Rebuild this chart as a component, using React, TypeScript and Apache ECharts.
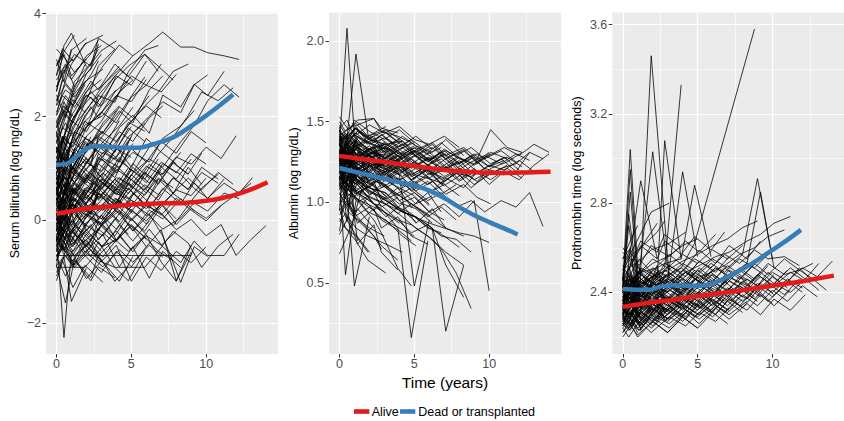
import React, { useEffect, useRef } from "react";
import * as echarts from "echarts";

// Visit schedules (years since baseline)
const VISITS_A = [0, 0.5, 1, 2, 3, 4, 5, 6, 7, 8, 9, 10, 11, 12, 13, 14];
const VISITS_B = [0, 0.4, 1.1, 1.9, 3.1, 4.2, 5.1, 6.2, 7.1, 8.3, 9.2, 10.1, 11.2, 12.2, 13.1, 14.1];
const VISITS_C = [0, 0.6, 1.2, 2.3, 2.8, 3.9, 4.8, 5.9, 6.8, 7.8, 8.8, 9.7, 10.8, 11.8, 12.7, 13.6];

const X_TICKS = [0, 5, 10];
const BILI_Y_TICKS = [-2, 0, 2, 4];
const ALB_Y_TICKS = [0.5, 1.0, 1.5, 2.0];
const PRO_Y_TICKS = [2.4, 2.8, 3.2, 3.6];

// Individual trajectories: schedule key, then one value per visit ("-" = no visit)
const BILI_SUBJECTS = [
  "A -0.69 -0.69 -0.69 -0.69 -0.69 -0.69 -0.69 -0.69 -0.69 -0.69 -0.69",
  "B -0.92 -0.92 -0.92 -0.92 -0.51 -0.36",
  "C 0.22 0.51 0.36 0.92 1.15 1.48 1.83 2.21 2.47 2.88 3.02",
  "A 1.52 2.03 2.38 2.91 3.28 3.47",
  "B 2.81 3.32 3.08 3.41 3.58",
  "C 3.31 3.12 2.86 3.22 3.49",
  "A 2.49 3.38 3.62 2.97",
  "B 0.02 -0.21 0.13 -0.08 0.22 -0.03 0.31 0.09 -0.18 0.04 0.33 0.17 0.52 0.41",
  "C -0.41 -0.63 -0.29 -0.52 -0.18 -0.44 -0.07 -0.33 -0.61 -0.22 -0.45 -0.92 -0.51 -0.28",
  "A 0.31 0.44 0.18 0.63 0.49 0.82 0.68 1.04 0.87 1.22 1.08 1.41 1.19 1.63",
  "B 1.21 1.53 1.29 1.84 2.02 2.48 2.71",
  "C 0.82 1.03 0.71 1.24 1.52 1.93 2.31 2.77",
  "A -1.18 -0.72 -1.58 -0.93",
  "A -0.32 -2.28 -0.61 -1.14 -0.79",
  "C -0.88 -1.61 -0.77 -1.12 -0.68 -1.19 -0.91",
  "A 1.03 1.62 2.19 2.83 3.21",
  "B 0.61 1.28 1.92 2.43 2.98 3.39 3.18",
  "C 1.79 2.14 2.68 3.04 3.31",
  "A 2.04 2.61 3.02 3.44",
  "B 2.23 2.72 2.48 3.01",
  "C 1.38 1.12 1.71 2.02 2.41 2.28 2.87 3.29 3.38",
  "A -0.19 0.03 -0.28 0.12 -0.07 0.21 0.38 0.08 0.29 0.58 0.47 0.81",
  "B 0.41 0.19 0.62 0.31 0.73 0.52 0.91 1.18 1.02 1.51 1.83 2.31 2.62 2.38",
  "C 0.11 0.29 0.02 0.43 0.18 0.61 0.33 0.88 1.27 1.61 2.02 2.48 2.31 2.56",
  "A -0.52 -0.31 -0.63 -0.38 -0.81 -0.49 -1.19 -0.72 -0.98 -0.61 -0.83 -0.52",
  "B -0.11 -0.42 -0.19 -0.63 -0.28 -0.91 -0.52 -1.13 -0.61 -0.92",
  "C 0.61 0.83 0.49 0.91 0.72 1.08 0.82 0.58 0.93 0.51 0.29 0.62 0.88",
  "A 0.91 1.22 0.98 1.43 1.71 1.52 1.92 2.21 1.98",
  "B 1.62 1.91 2.33 2.08 2.61 2.92 2.71",
  "C 2.58 2.93 3.21 2.98 3.52 3.31",
  "A 3.02 3.21 2.79 3.12",
  "B 0.28 0.11 0.52 0.83 1.19 1.02 1.48",
  "C -0.31 -0.09 -0.42 0.03 -0.21 0.32 0.08 0.51",
  "A 0.01 0.22 -0.11 0.29 0.02 0.41 0.18 -0.02 0.31 -0.09 0.22 0.03 0.28 0.49 0.71",
  "B -0.69 -0.48 -0.81 -0.39 -0.72 -0.31 -0.62 -0.18 -0.52 -0.83 -0.41 -0.69 -0.69 -0.28",
  "A 0.19 0.02 0.31 0.08 -0.11 0.18 -0.02 0.28 0.12 -0.19 0.01 -0.31 -0.09 -0.69 -0.38 -0.11",
  "B 1.09 1.31 0.98 1.52 1.21 1.79 2.03 1.68 2.42 2.19 2.63 2.41 2.88",
  "C 0.98 1.42 1.81 2.52 2.98 3.31",
  "A 2.31 2.82 3.31",
  "B 2.98 3.29",
  "C 2.71 3.02 2.58",
  "A 1.81 2.29 1.98",
  "B 1.29 1.82 2.41 2.68",
  "C 0.71 1.22 0.98 1.61",
  "A 0.48 0.91 1.52",
  "B -0.41 0.12 0.31",
  "C -1.02 -0.61 -0.88 -0.52",
  "A -0.79 -0.41 -0.72 -0.28 -0.61",
  "B -0.31 -0.62 -0.91 -0.48 -0.82 -1.19 -0.71",
  "C 0.02 -0.39 -0.18 -0.71 -0.42 -0.92 -1.18 -0.61",
  "A 0.41 0.02 0.31 -0.21 0.09 -0.39 -0.12 -0.52 -0.19 -1.18 -0.62",
  "B 0.12 -0.29 0.01 -0.41 -0.09 0.18 -0.22 0.11 -0.31 -1.21 -0.52 -0.71",
  "C 0.19 0.52 0.28 0.71 0.41 0.79 0.58 0.92 0.69 1.11 0.88",
  "A 0.72 0.49 0.91 1.18 0.82 1.41 1.02 1.58 1.31 1.09",
  "B 0.79 1.08 0.91 1.42 1.69 2.11 1.88 2.52 2.79",
  "C 1.31 1.68 2.02 2.38 2.19 2.71 2.98 3.21 2.88",
  "B 1.48 1.79 1.62 2.11 2.52 2.88 3.18 3.42 3.64 3.35 3.35 3.24 3.18 3.11",
  "C 2.02 2.41 2.18 2.69 2.52 3.02 2.78 3.21 2.98 2.71",
  "A 1.69 2.12 1.91 2.42 2.21 2.79 2.61 3.08",
  "B 0.88 0.61 1.02 0.79 1.31 1.12 1.68 2.01 2.29 2.08 2.62 2.81",
  "C -0.22 0.09 -0.12 0.31 0.01 0.42 0.19 0.61 0.38 0.82 0.59 1.02 0.79",
  "A -0.61 -0.38 -0.19 -0.52 -0.09 -0.41 0.02 -0.29 -0.82 -1.19 -0.49",
  "B 0.31 0.62 0.19 0.52 0.91",
  "C 0.88 0.62 1.09 0.81 1.28",
  "A 0.09 -0.22 0.21 -0.12",
  "B 1.91 1.48 2.21 2.62",
  "C 2.42 1.98 2.61 2.92 3.41",
  "A 3.11 2.68 3.29 3.52",
  "B -0.09 0.41 0.82 1.31 1.72",
  "C -0.49 -0.21 0.28 0.12 0.58 1.02",
  "A 0.62 0.31 0.79 0.51 1.02 1.38 1.81",
  "B 1.41 1.02 1.61 1.29 1.88 2.21",
  "C 0.42 0.09 0.51 0.22 0.61 0.28 0.72 0.41 0.19 0.52 0.81 0.58 0.92 0.69",
  "A -0.29 0.02 -0.21 0.11 -0.09 0.22 0.01 0.31 0.09 0.42 0.19 -0.02 0.28",
  "B 0.52 0.29 0.61 0.38 0.79 0.58 1.02 0.71 1.09 0.88 0.61 0.42 0.71 0.52 0.82",
  "C -0.88 -0.69 -0.92 -0.58 -0.79 -0.92 -0.92 -0.92 -0.61 -0.79",
  "A 0.02 0.51 1.09 1.62",
  "B 0.69 1.21 1.52 2.02 2.41",
  "C 1.11 1.62 1.29 1.98 2.31",
  "A 1.19 1.61 2.02",
  "B 2.49 2.91 3.12",
  "C 2.98 3.31 3.58",
  "A 2.79 3.21",
  "B -1.09 -0.79 -1.31 -0.88 -1.21",
  "C -0.71 -1.09 -0.79 -1.18 -0.91 -1.12",
  "A -0.19 -0.61 -0.31 -0.72 -1.02 -0.61 -0.91 -0.52",
  "B 0.19 0.01 0.41 0.21 0.52 0.31 0.62",
  "C 0.79 0.51 0.92 0.69 1.21 0.98 1.52",
  "A 0.98 1.31 1.09 1.62 1.91 2.38 2.79 2.61 3.02",
  "B -0.39 -0.18 -0.52 -0.09 -0.31 0.12 -0.21 0.19 0.02 0.41 0.18",
  "C 0.29 0.02 0.38 0.09 0.52 0.21 0.61 0.29 0.79 0.51 1.02 0.69",
  "A -0.21 1.02 0.41",
  "B 0.92 -0.31 0.58",
  "C -0.62 0.71 -0.12",
  "A 1.41 0.21 1.12",
  "B 0.31 1.62 0.88 1.29",
  "C 1.71 0.52 1.38",
  "A -0.91 0.29 -0.42 0.08",
  "B 0.61 -0.58 0.22",
  "A 0.52 0.81 0.63 1.12 0.94 1.38 1.21",
  "B -0.18 0.21 -0.05 0.44 0.18 0.69",
  "C 1.02 0.78 1.31 1.05 1.62 1.41 1.89 1.72",
  "A 0.33 -0.12 0.48 0.09 0.62 0.31 0.79 0.52 0.98",
  "B 0.71 0.98 1.28 1.09 1.51 1.82 2.18",
  "C -0.38 -0.02 -0.29 0.18 -0.11 0.29",
  "A 1.22 0.91 1.48 1.79 2.08 2.41 2.29 2.72",
  "B 0.08 0.39 0.21 0.58 0.41 0.82 0.61 1.08 0.88 1.31",
  "C 0.58 0.29 0.71 0.41 0.88 0.62 1.01 0.79 1.18",
  "A -0.42 -0.11 -0.48 -0.19 -0.52 -0.21 -0.58 -0.31 -0.49 -0.22",
  "B 1.78 2.09 1.88 2.38 2.61 2.98",
  "C 2.21 2.52 2.38 2.81 3.08",
  "A 0.88 1.19 1.52 1.31 1.79 2.12",
  "B 0.48 0.79 0.52 0.98 0.71 1.21 0.92 1.41",
  "C -0.11 0.21 0.42 0.19 0.51 0.31 0.69 0.48 0.81 0.62",
  "A 0.21 0.52 0.38 0.81 0.59 1.02",
  "B -0.58 -0.29 -0.61 -0.22 -0.52 -0.11 -0.41 -0.02",
  "C 1.51 1.88 1.62 2.19 1.98 2.48 2.71",
  "A 2.58 2.91 2.72 3.18 3.38",
  "B 1.02 0.72 1.31 1.58 1.39 1.92",
  "C 0.38 0.62 0.88 0.61 1.09 0.82 1.32",
  "A -0.08 0.29 0.11 0.49 0.22 0.61 0.38 0.22 0.51",
  "B 0.92 1.21 1.02 1.48 1.28 1.71 1.52 1.98 2.21",
  "C -0.69 -0.51 -0.69 -0.42 -0.69 -0.38 -0.61 -0.31",
  "A 1.62 1.31 1.92 1.71 2.22 2.52",
  "B 0.02 0.31 0.58 0.29 0.71 0.48 0.91",
  "C 0.71 0.98 0.79 1.21 1.42 1.18 1.61 1.88",
  "A -0.31 -0.58 -0.21 -0.49 -0.12 -0.41 -0.09 -0.38",
  "B 2.09 2.41 2.21 2.68 2.92",
  "C 0.12 0.41 0.22 0.61 0.38 0.79 0.51 0.92 0.72 1.11 0.89 1.29",
  "A 0.58 0.88 1.19 0.98 1.42 1.21 1.61",
  "B -0.22 0.09 -0.18 0.22 0.01 0.38 0.12",
  "C 1.19 0.92 1.38 1.12 1.58 1.31 1.78 1.52",
  "A 0.42 0.19 0.61 0.32 0.72 0.49 0.88 0.61 1.02 0.79 1.18",
  "B 1.31 1.62 1.41 1.91 1.68 2.19 1.98 2.41",
  "C -0.52 -0.21 -0.48 -0.09 -0.39 0.02 -0.28",
  "A 0.11 0.38 0.61 0.42 0.79 0.58 0.98 0.72 1.12 0.91 1.28 1.08",
  "B 0.59 0.31 0.72 0.48 0.91 0.62 1.09 0.81",
  "C 1.88 2.19 1.98 2.49 2.31 2.79",
  "A -0.09 -0.38 -0.02 -0.29 0.09 -0.18 0.21 -0.08 0.31 0.02",
  "B 0.38 0.69 0.49 0.88 0.62 1.02 1.31 1.12 1.58 1.82 2.12",
  "C 0.49 0.21 0.62 0.38 0.79 0.52 0.41 0.68 0.49 0.81 0.59 0.92 0.71",
  "A 1.31 1.59 1.42 1.81 2.09 1.88 2.38 2.61 2.48 2.82",
  "B -0.79 -0.52 -0.88 -0.61 -0.91 -0.58 -0.82 -0.49 -0.72",
  "C 0.31 0.01 0.42 0.12 0.51 0.21 0.62 0.31 0.71",
  "A 0.81 0.52 1.01 0.72 1.19 0.91 1.38 1.12 1.52 1.29 1.71 1.49",
  "B 0.21 -0.09 0.31 0.02 0.42 0.11 0.52 0.22 0.61 0.31 0.72 0.41 0.79",
  "C -0.19 -0.48 -0.12 -0.41 -0.02 -0.31 0.08 -0.22 0.18 -0.11 0.28",
  "A 1.92 2.21 2.02 2.49 2.72",
  "B 1.52 1.21 1.81 2.09",
  "C 0.92 1.28 1.09 1.52",
  "A 0.68 0.98 0.79 1.21",
  "B -0.02 0.42 0.19 0.62",
  "C 0.41 0.72 0.52 0.91",
  "A -0.48 -0.19 -0.52 -0.12",
  "B 0.82 0.49 1.02 0.71",
  "C 2.31 2.62 2.41",
  "A 1.12 1.41 1.21",
  "B 0.52 0.88 0.62",
  "C -0.29 0.08 -0.19",
  "A 0.28 -0.02 0.39",
  "B 1.68 1.39 1.91",
  "C 1.42 1.12 1.71 1.52",
  "A -0.71 -0.42 -0.81 -0.49 -0.78",
  "B 0.11 -0.21 0.22 -0.12 0.31 -0.04",
  "C 0.62 0.91 0.72 1.08 0.88 1.21 1.02",
  "A 0.38 0.69 0.49 0.82 0.61 0.98 0.78 1.12",
];

const ALB_SUBJECTS = [
  "A 1.30 1.35 1.27 1.33 1.24 1.31 1.21 1.28 1.19 1.26 1.17 1.23 1.20 1.26 1.19",
  "B 1.38 1.43 1.34 1.41 1.32 1.38 1.29 1.36 1.27 1.33 1.24 1.31 1.27",
  "C 1.25 1.19 1.29 1.21 1.17 1.25 1.14 1.21 1.11 1.19 1.09 1.16 1.21 1.24 1.31 1.27",
  "A 1.35 2.08 1.41 1.31 1.29 1.24",
  "B 1.28 1.31 1.92 1.42 1.34 1.29",
  "C 1.11 0.99 0.91 0.79 0.71",
  "A 1.21 1.04 0.48 0.91",
  "B 1.16 0.55 1.01",
  "C 0.68 0.81 0.96 0.84",
  "C 1.26 1.14 1.11 0.99 0.96 0.84 0.16 0.76",
  "B 1.31 1.24 1.21 1.09 1.06 0.94 0.91 0.84 0.20 0.61",
  "A 1.21 1.14 1.19 1.09 1.06 0.99 1.03 0.94 0.99 0.91 1.01 0.45",
  "C 1.16 1.09 1.06 0.99 0.98 0.89 0.86 0.79 0.71 0.56 0.34",
  "B 1.23 1.17 1.13 1.07 1.01 0.94 0.91 0.84 0.61 0.41",
  "A 1.33 1.27 1.31 1.24 1.23 1.17 0.48 0.89",
  "C 1.41 1.46 1.48 1.52 1.44 1.41 1.37",
  "A 1.46 1.51 1.41 1.48 1.43 1.47 1.39 1.36 1.41 1.34",
  "B 1.42 1.37 1.46 1.39 1.36 1.38 1.31 1.37 1.29 1.34 1.27 1.45 1.34 1.31",
  "C 1.35 1.31 1.39 1.29 1.35 1.27 1.33 1.25 1.31 1.23 1.29 1.21 1.27 1.19 1.31",
  "A 1.28 1.24 1.31 1.21 1.27 1.19 1.25 1.17 1.23 1.14 1.21 1.11 1.19 1.14 1.23 1.30",
  "C 1.18 1.11 1.16 1.07 1.11 1.04 1.09 1.01 1.06 0.97 1.01 0.94 1.01 0.97 1.06 0.85",
  "A 1.41 1.34 1.31 1.24 1.21 1.14 1.06 0.99",
  "B 1.36 1.27 1.23 1.14 1.11 0.99 0.96 0.87",
  "C 1.31 1.24 1.19 1.11 1.06 0.97 0.93 0.84 0.81",
  "A 1.26 1.19 1.16 1.07 1.03 0.95 0.91 0.84 0.79 0.72",
  "B 1.16 1.09 1.03 0.94 0.89 0.79 0.73",
  "C 1.06 0.94 0.89 0.79 0.73 0.64",
  "A 1.01 0.89 0.81 0.69",
  "B 0.96 0.84 0.76 0.64 0.56",
  "C 1.21 1.09 1.01 0.89 0.81 0.59 0.48",
  "A 1.33 1.37 1.29 1.35 1.27 1.33 1.25 1.31 1.23 1.29",
  "B 1.41 1.35 1.43 1.37 1.33 1.41 1.35 1.31 1.39 1.29",
  "C 1.28 1.33 1.25 1.31 1.23 1.29 1.21 1.28 1.19 1.25 1.17",
  "A 1.22 1.27 1.19 1.25 1.17 1.23 1.15 1.21 1.13 1.19 1.11 1.17",
  "B 1.36 1.31 1.35 1.27 1.32 1.24 1.29 1.21 1.27 1.19 1.25 1.17 1.23",
  "C 1.45 1.39 1.44 1.37 1.42 1.34 1.39 1.31 1.37 1.29 1.34 1.27 1.32 1.25",
  "A 1.38 1.33 1.38 1.30 1.36 1.28 1.34 1.26 1.32 1.24 1.30 1.22 1.28 1.20",
  "B 1.12 1.07 1.15 1.09 1.17 1.11 1.09 1.07 1.15 1.09 1.19 1.14 1.21 1.15",
  "C 1.30 1.35 1.27 1.32 1.25",
  "A 1.42 1.37 1.46 1.39",
  "B 1.36 1.41 1.34",
  "C 1.25 1.29 1.21",
  "A 1.32 1.28",
  "B 1.18 1.23 1.14 1.09",
  "C 1.12 1.04 1.11 0.99 0.94",
  "A 1.05 0.99 0.91 0.84 0.79",
  "B 0.90 0.84 0.79 0.69",
  "C 0.80 0.91 0.74 0.86 0.69 0.58",
  "A 1.48 1.41 1.51 1.44 1.39 1.45 1.37",
  "B 1.50 1.44 1.49 1.41 1.47",
  "C 1.53 1.45 1.51 1.52 1.46 1.43",
  "A 1.26 1.21 1.25 1.19 1.14 1.09 1.04 0.94 0.89",
  "B 1.20 1.15 1.09 1.04 0.99 0.91 0.84 0.77 0.69 0.61",
  "C 1.10 1.05 1.02 0.97 0.95 0.89 0.81 0.86 0.79 0.77 0.69",
  "A 1.16 1.11 1.08 1.03 0.99 0.95 0.91 0.87 0.84 0.81 0.79 0.75",
  "B 1.30 1.25 1.28 1.23 1.19 1.22 1.17 1.14 1.11 1.18 1.13 1.21 1.25 1.31",
  "C 1.24 1.29 1.21 1.27 1.19 1.25 1.17 1.23 1.27 1.19 1.25 1.29 1.24 1.30 1.26",
  "A 1.34 1.29 1.26 1.33 1.28 1.24 1.31 1.25 1.21 1.28 1.23 1.29 1.34 1.29 1.36 1.31",
  "B 1.14 1.19 1.11 1.17 1.09 1.15 1.07 1.13 1.05 1.11 1.03 0.99",
  "C 1.02 0.97 1.06 0.95 1.01 0.93 0.99 0.91 0.97 0.89",
  "A 0.95 1.01 0.91 0.97 0.89 0.84 0.79",
  "B 0.88 0.93 0.84 0.79 0.74 0.69",
  "C 1.08 1.16 1.04 1.13 1.01 1.09 0.97 1.06 0.94",
  "A 1.28 1.23 1.19 1.27 1.21 1.17 1.25 1.19 1.15",
  "B 1.44 1.39 1.47 1.37 1.43 1.35 1.41 1.33",
  "C 1.38 1.43 1.35 1.41 1.33 1.39 1.31 1.36",
  "A 1.20 1.25 1.17 1.23 1.15 1.21",
  "B 1.26 1.31 1.23 1.29 1.21 1.27",
  "C 1.32 1.37 1.29 1.35 1.27",
  "A 1.15 1.21 1.11 1.19",
  "B 1.10 1.16 1.07 1.13 1.04",
  "C 1.35 1.29 1.34 1.27 1.32 1.25 1.31 1.23 1.29 1.21 1.27",
  "A 1.24 1.31 1.25 1.33 1.27 1.35 1.29 1.26 1.33 1.27 1.24 1.31",
  "B 0.98 1.06 0.94 1.03 0.91 0.99 0.87 0.96 0.84 0.79",
  "C 0.92 1.01 0.87 0.96 0.84 0.91 0.79 0.74",
  "A 1.45 1.12 1.38",
  "B 0.95 1.32 1.08",
  "C 1.40 0.98 1.30",
  "A 1.18 1.42 0.92 1.25",
  "B 1.33 1.02 1.28",
  "C 0.82 1.18 0.76",
  "A 1.27 0.88 1.21 1.05",
  "B 1.47 1.22 1.39 1.12 1.31",
  "A 1.31 1.26 1.33 1.28 1.30 1.24 1.29 1.22",
  "B 1.27 1.32 1.24 1.30 1.22 1.28",
  "C 1.36 1.30 1.34 1.28 1.33 1.26 1.31",
  "A 1.19 1.24 1.16 1.22 1.14 1.20 1.12 1.18 1.10",
  "B 1.33 1.28 1.36 1.29 1.34 1.27 1.32 1.25 1.30",
  "C 1.22 1.27 1.20 1.25 1.18 1.23 1.16 1.21 1.14 1.19",
  "A 1.40 1.35 1.42 1.36 1.40 1.33 1.37",
  "B 1.17 1.12 1.20 1.13 1.18 1.10 1.15",
  "C 1.29 1.24 1.31 1.25 1.29 1.22 1.27 1.20",
  "A 1.24 1.19 1.27 1.20 1.25 1.18 1.23 1.15 1.21 1.13 1.19",
  "B 1.35 1.40 1.33 1.38 1.31 1.36 1.29 1.34 1.27 1.32 1.25 1.30",
  "C 1.14 1.19 1.11 1.17 1.09 1.15 1.07 1.13 1.05 1.11",
  "A 1.37 1.32 1.39 1.33 1.37 1.30 1.35",
  "B 1.23 1.18 1.25 1.19 1.24 1.16 1.21 1.13",
  "C 1.42 1.37 1.44 1.38 1.42 1.35",
  "A 1.12 1.07 1.14 1.05 1.10 1.01 1.06 0.98",
  "B 1.29 1.34 1.27 1.32 1.25 1.30 1.23 1.28 1.21 1.26 1.19",
  "C 1.20 1.15 1.22 1.16 1.20 1.13 1.18 1.11 1.16",
  "A 1.33 1.29 1.35 1.30 1.34 1.28 1.32 1.26 1.30 1.24 1.28 1.22 1.26",
  "B 1.08 1.13 1.05 1.10 1.02 1.07 0.99 1.04",
  "C 1.39 1.34 1.41 1.35 1.39 1.32 1.37 1.30 1.34",
  "A 1.26 1.31 1.24 1.29 1.22 1.27",
  "B 1.19 1.14 1.21 1.15 1.19 1.12",
  "C 1.31 1.36 1.28 1.34 1.26 1.32 1.24",
  "A 1.44 1.39 1.46 1.40 1.44 1.37",
  "B 1.25 1.21 1.27 1.22 1.26 1.19 1.24 1.17 1.22 1.15",
  "C 1.17 1.22 1.14 1.20 1.12 1.18 1.10 1.16 1.08",
  "A 1.30 1.26 1.22 1.17 1.11 1.04 0.98 0.92",
  "B 1.24 1.19 1.14 1.08 1.01 0.95 0.88",
  "C 1.27 1.21 1.16 1.10 1.03 0.96",
  "A 1.18 1.12 1.07 1.01 0.94 0.87",
  "B 1.32 1.27 1.22 1.16 1.10 1.03 0.97 0.90 0.84",
  "C 1.13 1.08 1.02 0.95 0.89 0.83 0.76",
  "A 1.36 1.32 1.38 1.33 1.36",
  "B 1.21 1.26 1.19",
  "C 1.34 1.29 1.36",
  "A 1.23 1.28 1.20",
  "B 1.39 1.34 1.41 1.36",
  "C 1.16 1.21 1.13 1.18",
  "A 1.29 1.34 1.27",
  "B 1.14 1.09 1.17",
  "C 1.26 1.31 1.23 1.28 1.21",
  "A 1.41 1.36 1.43",
  "B 1.31 1.27 1.33 1.28",
  "C 1.09 1.14 1.06 1.11",
  "A 1.25 1.30 1.22 1.27 1.20 1.25 1.18 1.23 1.16 1.21 1.14 1.19 1.17",
  "B 1.35 1.31 1.37 1.32 1.36 1.30 1.34 1.28 1.32 1.26 1.30 1.24 1.28 1.22",
  "C 1.21 1.26 1.18 1.24 1.16 1.22 1.14 1.20 1.12 1.18 1.16 1.21 1.18",
  "A 1.15 1.10 1.17 1.11 1.15 1.08 1.13 1.06 1.11 1.04",
  "B 1.44 1.40 1.46 1.41 1.45 1.38",
  "C 1.03 1.08 1.00 1.06 0.97 1.03",
  "A 1.32 1.20 1.36 1.24",
  "B 1.20 1.38 1.15 1.30",
  "C 1.37 1.24 1.40",
  "A 1.10 1.28 1.05",
  "B 1.28 1.12 1.34 1.18",
];

const PRO_SUBJECTS = [
  "A 2.35 2.39 2.36 2.41 2.37 2.43 2.40 2.45 2.41 2.47 2.43 2.49 2.45 2.51 2.47 2.54",
  "B 2.30 2.34 2.31 2.36 2.32 2.38 2.34 2.40 2.36 2.42 2.38 2.44 2.40 2.46 2.41",
  "C 2.40 2.43 2.38 2.45 2.40 2.47 2.42 2.49 2.44 2.51 2.46 2.53 2.48 2.50 2.46 2.41",
  "A 2.45 3.04 2.51 2.47",
  "A 2.42 2.95 2.46",
  "B 2.40 2.37 2.36 3.46 2.47",
  "A 2.38 2.41 2.43 3.03 2.51",
  "C 2.36 2.41 2.38 2.46 3.08 2.55",
  "C 2.42 2.46 2.40 2.49 2.51 3.33",
  "A 2.44 2.40 2.47 2.42 2.46 2.94 2.56",
  "C 2.46 2.43 2.49 2.51 2.53 2.55 2.88 2.56",
  "C 2.40 2.43 2.38 2.45 2.47 2.51 2.62 - - - 3.58",
  "A 2.45 2.49 2.44 2.51 2.47 2.53 2.49 2.55 2.51 2.57 2.91 2.55",
  "B 2.40 2.45 2.41 2.47 2.43 2.49 2.45 2.51 2.47 2.53 2.85 2.51",
  "B 2.32 2.36 2.30 2.35 2.31 2.37 2.33 2.39",
  "C 2.28 2.31 2.26 2.33 2.29 2.35 2.31 2.37 2.33",
  "A 2.25 2.29 2.24 2.31 2.27 2.33 2.29 2.35 2.31 2.37",
  "B 2.38 2.35 2.41 2.37 2.43 2.39 2.45 2.41 2.47 2.43 2.49",
  "C 2.44 2.47 2.42 2.49 2.45 2.51 2.47 2.53 2.49 2.55 2.51 2.57",
  "A 2.50 2.53 2.48 2.55 2.51 2.57 2.53 2.59 2.55 2.61",
  "B 2.55 2.59 2.52 2.61 2.56 2.63 2.58 2.66",
  "C 2.60 2.54 2.63 2.58 2.66 2.60",
  "A 2.22 2.26 2.20 2.27 2.22 2.29 2.24",
  "B 2.24 2.20 2.27 2.22 2.29 2.25 2.31 2.27 2.33",
  "C 2.30 2.26 2.33 2.28 2.35 2.30 2.37 2.32 2.39 2.34 2.41 2.36 2.43",
  "A 2.33 2.29 2.36 2.32 2.38 2.34 2.40 2.36 2.42 2.38 2.44 2.40 2.46 2.42",
  "B 2.36 2.32 2.39 2.35 2.41 2.37 2.43 2.39 2.45 2.41 2.47 2.43 2.49 2.45",
  "C 2.48 2.44 2.51 2.47 2.53 2.49 2.55 2.51 2.57 2.53 2.59 2.55 2.56 2.52",
  "A 2.42 2.46 2.48 2.53 2.56 2.61 2.64",
  "B 2.46 2.51 2.54 2.59 2.62 2.67",
  "C 2.50 2.57 2.60 2.67 2.72",
  "A 2.38 2.41 2.43 2.47 2.50 2.54 2.57 2.61 2.64 2.69 2.72",
  "B 2.34 2.37 2.39 2.43 2.45 2.49 2.52 2.56 2.58 2.63 2.66 2.71 2.74",
  "C 2.40 2.37 2.42 2.39 2.44 2.41 2.46 2.49 2.52 2.57 2.60 2.65 2.68",
  "A 2.35 2.41 2.45",
  "B 2.30 2.37 2.42 2.49",
  "C 2.45 2.53 2.60 2.71",
  "A 2.55 2.63 2.70",
  "B 2.48 2.56 2.65 2.76 2.80",
  "C 2.38 2.45 2.50",
  "A 2.28 2.33 2.36 2.33",
  "B 2.26 2.23 2.29 2.24 2.31",
  "C 2.32 2.27 2.35 2.29 2.37 2.33",
  "A 2.40 2.35 2.43 2.37 2.45 2.39 2.47",
  "B 2.44 2.39 2.47 2.41 2.49 2.43 2.51 2.45",
  "C 2.36 2.31 2.39 2.33 2.41 2.35 2.43 2.37 2.45 2.39",
  "A 2.30 2.25 2.33 2.27 2.35 2.29 2.37 2.31 2.39 2.33 2.41 2.35",
  "B 2.28 2.24 2.31 2.26 2.33 2.28 2.35 2.30 2.37 2.32 2.39 2.34 2.41",
  "C 2.34 2.39 2.34 2.41 2.35 2.43 2.37 2.45 2.39 2.47 2.41 2.49 2.43 2.51 2.45",
  "A 2.26 2.31 2.26 2.33 2.28 2.35 2.30 2.37 2.32 2.39 2.34 2.41 2.36 2.43 2.38",
  "B 2.52 2.47 2.55 2.49 2.57 2.51 2.59 2.53 2.61 2.55 2.63",
  "C 2.58 2.53 2.61 2.55 2.63 2.57 2.65 2.59 2.67",
  "A 2.20 2.25 2.21 2.27 2.22 2.29 2.24 2.31 2.26",
  "B 2.22 2.27 2.23 2.29 2.24 2.31 2.26 2.33 2.28 2.35 2.30 2.37 2.32 2.39",
  "C 2.42 2.39 2.45 2.40 2.47 2.42 2.49 2.44 2.51 2.46 2.53 2.48 2.55 2.50 2.53",
  "A 2.40 2.85 2.45 2.42",
  "B 2.45 2.75 2.40",
  "C 2.50 2.62 2.90 2.55",
  "A 2.32 2.48 2.29 2.41",
  "B 2.37 2.26 2.44 2.31",
  "C 2.29 2.44 2.27 2.38 2.31",
  "A 2.47 2.34 2.52 2.39 2.45",
  "B 2.33 2.52 2.36 2.47 2.34 2.42",
  "C 2.25 2.38 2.23 2.35 2.28",
  "A 2.31 2.35 2.29 2.36 2.32 2.38 2.34",
  "B 2.36 2.40 2.34 2.41 2.37 2.43",
  "C 2.33 2.29 2.36 2.31 2.38 2.33 2.40 2.35",
  "A 2.39 2.43 2.37 2.44 2.40 2.46 2.42 2.48 2.44",
  "B 2.27 2.31 2.25 2.32 2.28 2.34 2.30 2.36 2.32",
  "C 2.43 2.39 2.46 2.41 2.48 2.43 2.50",
  "A 2.29 2.33 2.27 2.35 2.30 2.37 2.32 2.39 2.34 2.41 2.36",
  "B 2.41 2.37 2.44 2.39 2.46 2.41 2.48 2.43 2.50 2.45",
  "C 2.35 2.40 2.33 2.42 2.36 2.44 2.38 2.46",
  "A 2.46 2.42 2.49 2.44 2.51 2.46 2.53",
  "B 2.33 2.29 2.36 2.31 2.38 2.33 2.40 2.35 2.42 2.37 2.44 2.39",
  "C 2.26 2.30 2.24 2.32 2.27 2.34 2.29 2.36 2.31 2.38",
  "A 2.37 2.33 2.40 2.35 2.42 2.37 2.44 2.39 2.46 2.41 2.48 2.43 2.50",
  "B 2.43 2.47 2.41 2.49 2.44 2.51 2.46",
  "C 2.31 2.35 2.29 2.37 2.32 2.39 2.34 2.41 2.36 2.43 2.38",
  "A 2.34 2.30 2.37 2.32 2.39",
  "B 2.39 2.35 2.42 2.37",
  "C 2.27 2.32 2.25 2.34",
  "A 2.44 2.48 2.42 2.50 2.45",
  "B 2.29 2.25 2.32 2.27 2.34 2.29 2.36",
  "C 2.37 2.42 2.35 2.44 2.39 2.46 2.41 2.48 2.43 2.50 2.45 2.52",
  "A 2.32 2.28 2.35 2.30 2.37 2.32 2.39 2.34 2.41 2.36 2.43 2.38 2.45 2.40",
  "B 2.47 2.43 2.50 2.45 2.52 2.47 2.54 2.49 2.56",
  "C 2.29 2.25 2.31 2.27 2.33 2.29 2.35 2.31 2.37",
  "A 2.41 2.46 2.40 2.48 2.43 2.50 2.45 2.52",
  "B 2.35 2.39 2.33 2.40 2.36 2.42 2.38 2.44 2.40 2.46 2.42 2.48",
  "C 2.39 2.35 2.42 2.37 2.44 2.39 2.46 2.41",
  "A 2.27 2.23 2.30 2.25 2.32 2.27 2.34 2.29 2.36 2.31",
  "B 2.42 2.46 2.40 2.47 2.43 2.49 2.45 2.51 2.47 2.53 2.49",
  "C 2.34 2.30 2.37 2.32 2.39 2.34 2.41",
  "A 2.36 2.40 2.34 2.42",
  "B 2.31 2.35 2.29",
  "C 2.41 2.45 2.39 2.47",
  "A 2.24 2.28 2.22",
  "B 2.46 2.42 2.49 2.44",
  "C 2.32 2.36 2.30",
  "A 2.38 2.34 2.41 2.36 2.43",
  "B 2.27 2.32 2.26 2.33 2.28",
  "C 2.45 2.41 2.48 2.43 2.50 2.45",
  "A 2.33 2.38 2.31 2.39 2.34 2.41 2.36 2.43 2.38 2.45 2.40 2.47 2.42",
  "B 2.38 2.34 2.41 2.36 2.43 2.38 2.45 2.40 2.47 2.42 2.49 2.44 2.51 2.46 2.53",
  "C 2.30 2.34 2.28 2.36 2.31 2.38 2.33 2.40 2.35 2.42 2.37 2.44 2.39 2.46",
  "A 2.43 2.39 2.46 2.41 2.48 2.43 2.50 2.45 2.52 2.47 2.54",
  "B 2.25 2.29 2.23 2.30 2.26 2.32 2.28 2.34 2.30 2.36",
  "C 2.36 2.55 2.33 2.49",
  "A 2.30 2.60 2.34 2.45",
  "B 2.42 2.70 2.38",
  "C 2.28 2.47 2.32 2.52 2.36",
];

// Smoothed group means
const BILI_ALIVE_T = [0, 1, 2, 3, 4, 5, 6, 7, 8, 9, 10, 11, 12, 13, 14.1];
const BILI_ALIVE_V = [0.12, 0.17, 0.22, 0.25, 0.27, 0.3, 0.31, 0.32, 0.32, 0.34, 0.37, 0.42, 0.49, 0.59, 0.73];
const BILI_DEAD_T = [0, 0.7, 1.3, 2, 2.7, 3.5, 4.5, 5.5, 6.5, 7.3, 8, 9, 10, 11, 11.8];
const BILI_DEAD_V = [1.07, 1.09, 1.22, 1.38, 1.43, 1.42, 1.4, 1.4, 1.47, 1.54, 1.63, 1.82, 2.02, 2.24, 2.43];
const ALB_ALIVE_T = [0, 1, 2, 3, 4, 5, 6, 7, 8, 9, 10, 11, 12, 13, 14.1];
const ALB_ALIVE_V = [1.287, 1.275, 1.262, 1.25, 1.237, 1.225, 1.212, 1.2, 1.192, 1.186, 1.183, 1.182, 1.184, 1.187, 1.19];
const ALB_DEAD_T = [0, 1, 2, 3, 4, 5, 6, 7, 8, 9, 10, 11, 11.9];
const ALB_DEAD_V = [1.213, 1.19, 1.168, 1.146, 1.124, 1.105, 1.072, 1.027, 0.97, 0.92, 0.877, 0.838, 0.8];
const PRO_ALIVE_T = [0, 1, 2, 3, 4, 5, 6, 7, 8, 9, 10, 11, 12, 13, 14.1];
const PRO_ALIVE_V = [2.335, 2.346, 2.356, 2.364, 2.373, 2.383, 2.392, 2.401, 2.41, 2.42, 2.43, 2.44, 2.45, 2.462, 2.475];
const PRO_DEAD_T = [0, 1, 1.8, 2.5, 3.5, 4.5, 5.2, 6, 7, 8, 9, 10, 11, 11.9];
const PRO_DEAD_V = [2.415, 2.412, 2.412, 2.426, 2.432, 2.43, 2.43, 2.44, 2.47, 2.505, 2.545, 2.59, 2.635, 2.68];

const FONT = "'Liberation Sans', Arial, Helvetica, sans-serif";
const RED = "#E41A1C";
const BLUE = "#377EB8";
const PANEL_BG = "#EBEBEB";
const TICK_TEXT = "#4D4D4D";

function toPoints(s: string): number[][] {
  const parts = s.trim().split(/\s+/);
  const key = parts[0];
  const times = key === "A" ? VISITS_A : key === "B" ? VISITS_B : VISITS_C;
  const pts: number[][] = [];
  parts.slice(1).forEach((v, i) => {
    if (v !== "-") pts.push([times[i], parseFloat(v)]);
  });
  return pts;
}

function pairs(t: number[], v: number[]): number[][] {
  return t.map((x, i) => [x, v[i]]);
}

function fmtTick(v: number, digits: number): string {
  const s = v.toFixed(digits);
  return v < 0 ? "\u2212" + s.slice(1) : s;
}

const PANELS = [
  {
    subjects: BILI_SUBJECTS,
    alive: pairs(BILI_ALIVE_T, BILI_ALIVE_V),
    dead: pairs(BILI_DEAD_T, BILI_DEAD_V),
    yName: "Serum bilirubin (log mg/dL)",
    yTicks: BILI_Y_TICKS,
    yMin: -2.6,
    yMax: 4.02,
    yStep: 2,
    digits: 0,
    left: 46,
    nameGap: 25,
  },
  {
    subjects: ALB_SUBJECTS,
    alive: pairs(ALB_ALIVE_T, ALB_ALIVE_V),
    dead: pairs(ALB_DEAD_T, ALB_DEAD_V),
    yName: "Albumin (log mg/dL)",
    yTicks: ALB_Y_TICKS,
    yMin: 0.058,
    yMax: 2.178,
    yStep: 0.5,
    digits: 1,
    left: 329,
    nameGap: 29,
  },
  {
    subjects: PRO_SUBJECTS,
    alive: pairs(PRO_ALIVE_T, PRO_ALIVE_V),
    dead: pairs(PRO_DEAD_T, PRO_DEAD_V),
    yName: "Prothrombin time (log seconds)",
    yTicks: PRO_Y_TICKS,
    yMin: 2.124,
    yMax: 3.654,
    yStep: 0.4,
    digits: 1,
    left: 612.3,
    nameGap: 29,
  },
];

export default function App() {
  const ref = useRef<HTMLDivElement>(null);

  useEffect(() => {
    if (!ref.current) return;
    const chart = echarts.init(ref.current, null, { renderer: "svg" });

    const grids: any[] = [];
    const xAxes: any[] = [];
    const yAxes: any[] = [];
    const series: any[] = [];

    PANELS.forEach((p, i) => {
      grids.push({
        left: p.left,
        top: 12.5,
        width: 232,
        height: 341.5,
        show: true,
        backgroundColor: PANEL_BG,
        borderWidth: 0,
        containLabel: false,
        outerBoundsMode: "none",
      });
      xAxes.push({
        gridIndex: i,
        type: "value",
        min: -0.7,
        max: 14.8,
        minInterval: 5,
        maxInterval: 5,
        axisLine: { show: false, onZero: false },
        axisTick: {
          show: true,
          length: 3.5,
          customValues: X_TICKS,
          lineStyle: { color: "#333333", width: 1 },
        },
        axisLabel: {
          customValues: X_TICKS,
          color: TICK_TEXT,
          fontSize: 12.5,
          fontFamily: FONT,
          margin: 3,
          formatter: (v: number) => fmtTick(v, 0),
        },
        splitLine: { show: true, lineStyle: { color: "#FFFFFF", width: 1.2 } },
        minorTick: { show: false, splitNumber: 2 },
        minorSplitLine: { show: true, lineStyle: { color: "#FFFFFF", width: 0.6 } },
        name: i === 1 ? "Time (years)" : "",
        nameLocation: "middle",
        nameGap: 15,
        nameTextStyle: { color: "#000000", fontSize: 15.5, fontFamily: FONT },
      });
      yAxes.push({
        gridIndex: i,
        type: "value",
        min: p.yMin,
        max: p.yMax,
        minInterval: p.yStep,
        maxInterval: p.yStep,
        axisLine: { show: false, onZero: false },
        axisTick: {
          show: true,
          length: 3.5,
          customValues: p.yTicks,
          lineStyle: { color: "#333333", width: 1 },
        },
        axisLabel: {
          customValues: p.yTicks,
          color: TICK_TEXT,
          fontSize: 12.5,
          fontFamily: FONT,
          margin: 5,
          formatter: (v: number) => fmtTick(v, p.digits),
        },
        splitLine: { show: true, lineStyle: { color: "#FFFFFF", width: 1.2 } },
        minorTick: { show: false, splitNumber: 2 },
        minorSplitLine: { show: true, lineStyle: { color: "#FFFFFF", width: 0.6 } },
        name: p.yName,
        nameLocation: "middle",
        nameGap: p.nameGap,
        nameTextStyle: { color: "#000000", fontSize: 12.5, fontFamily: FONT },
      });

      p.subjects.forEach((s, k) => {
        series.push({
          type: "line",
          name: `subject-${i}-${k}`,
          xAxisIndex: i,
          yAxisIndex: i,
          data: toPoints(s),
          showSymbol: false,
          symbol: "none",
          silent: true,
          z: 2,
          lineStyle: { color: "rgba(0,0,0,0.78)", width: 1 },
          emphasis: { disabled: true },
        });
      });

      series.push({
        type: "line",
        name: "Alive",
        xAxisIndex: i,
        yAxisIndex: i,
        data: p.alive,
        smooth: 0.4,
        showSymbol: false,
        symbol: "none",
        silent: true,
        z: 5,
        lineStyle: { color: RED, width: 4.5 },
        itemStyle: { color: RED },
        emphasis: { disabled: true },
      });
      series.push({
        type: "line",
        name: "Dead or transplanted",
        xAxisIndex: i,
        yAxisIndex: i,
        data: p.dead,
        smooth: 0.4,
        showSymbol: false,
        symbol: "none",
        silent: true,
        z: 5,
        lineStyle: { color: BLUE, width: 4.5 },
        itemStyle: { color: BLUE },
        emphasis: { disabled: true },
      });
    });

    chart.setOption({
      animation: false,
      backgroundColor: "#FFFFFF",
      textStyle: { fontFamily: FONT },
      grid: grids,
      xAxis: xAxes,
      yAxis: yAxes,
      series,
      graphic: [
        {
          type: "group",
          x: 354,
          y: 411.5,
          children: [
            { type: "rect", shape: { x: 0, y: -2.3, width: 15.3, height: 4.6 }, style: { fill: RED } },
            {
              type: "text",
              x: 17.7,
              y: 0.8,
              style: { text: "Alive", fill: "#000000", fontSize: 12.5, fontFamily: FONT, verticalAlign: "middle" },
            },
            { type: "rect", shape: { x: 46, y: -2.3, width: 15.3, height: 4.6 }, style: { fill: BLUE } },
            {
              type: "text",
              x: 64.3,
              y: 0.8,
              style: {
                text: "Dead or transplanted",
                fill: "#000000",
                fontSize: 12.5,
                fontFamily: FONT,
                verticalAlign: "middle",
              },
            },
          ],
        },
      ],
    });

    return () => chart.dispose();
  }, []);

  return (
    <div
      ref={ref}
      style={{ position: "fixed", left: 0, top: 0, width: 844, height: 421, background: "#FFFFFF" }}
    />
  );
}
